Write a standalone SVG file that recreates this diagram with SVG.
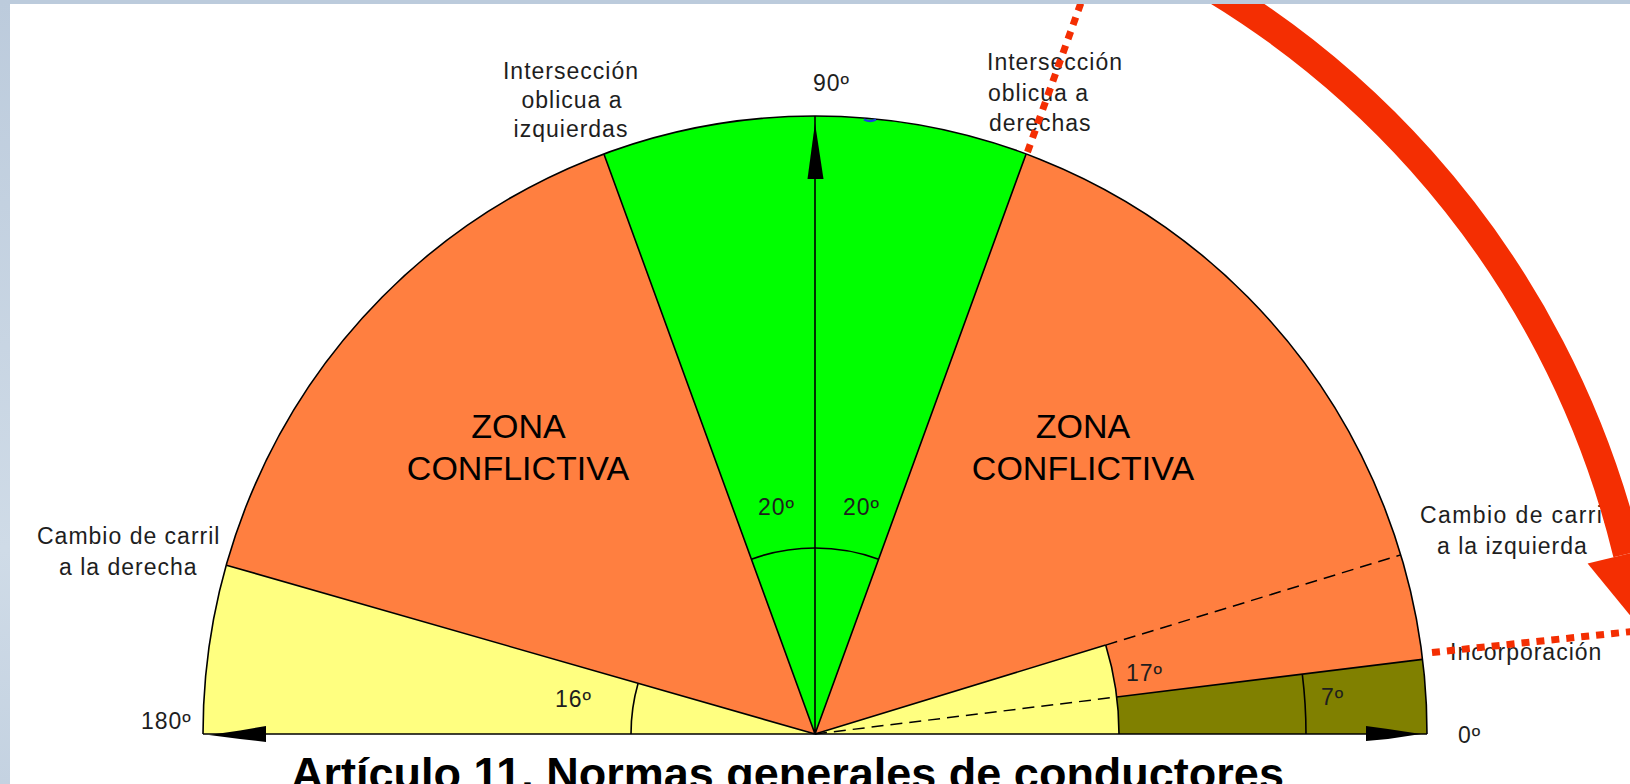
<svg xmlns="http://www.w3.org/2000/svg" width="1630" height="784" viewBox="0 0 1630 784">
<defs>
<linearGradient id="sideGrad" x1="0" y1="0" x2="0" y2="1">
<stop offset="0" stop-color="#bccbdc"/>
<stop offset="0.7" stop-color="#cfdbe7"/>
<stop offset="1" stop-color="#c4d2e1"/>
</linearGradient>
<style>
.edge{fill:none;stroke:#000;stroke-width:1.6}
.dash{fill:none;stroke:#000;stroke-width:1.5;stroke-dasharray:12 7}
.lbl{font-family:"Liberation Sans",Arial,sans-serif;font-size:23px;letter-spacing:1px;fill:#1e1e1e}
.zone{font-family:"Liberation Sans",Arial,sans-serif;font-size:34px;fill:#000;text-anchor:middle}
.title{font-family:"Liberation Sans",Arial,sans-serif;font-size:45px;font-weight:bold;fill:#000;text-anchor:middle}
.dots{fill:none;stroke:#f42e02;stroke-width:7;stroke-dasharray:8 7}
.blk{fill:#000}
</style>
</defs>
<rect width="1630" height="784" fill="#fff"/>

<g id="sector-yellow-left"><path d="M815 734 L203 734 A612 618 0 0 1 226.4 565.2 Z" fill="#ffff80"/></g>
<g id="sector-orange-left"><path d="M815 734 L226.4 565.2 A612 618 0 0 1 603.9 153.9 Z" fill="#ff7f40"/></g>
<g id="sector-green"><path d="M815 734 L603.9 153.9 A612 618 0 0 1 1026.1 153.9 Z" fill="#00ff00"/></g>
<g id="sector-orange-right"><path d="M815 734 L1026.1 153.9 A612 618 0 0 1 1422.4 659.4 L1116.7 697 A304 304 0 0 0 1105.7 645.1 Z" fill="#ff7f40"/></g>
<g id="sector-yellow-right"><path d="M815 734 L1105.7 645.1 A304 304 0 0 1 1119 734 Z" fill="#ffff80"/></g>
<g id="sector-olive"><path d="M1116.7 697 L1422.4 659.4 A612 618 0 0 1 1427 734 L1119 734 A304 304 0 0 0 1116.7 697 Z" fill="#808000"/></g>

<g id="edges">
<path class="edge" d="M203 734 A612 618 0 0 1 815 116 A612 618 0 0 1 1427 734"/>
<path class="edge" d="M203 734 H1427"/>
<path class="edge" d="M815 734 L226.4 565.2 M815 734 L603.9 153.9 M815 734 V116 M815 734 L1026.1 153.9 M815 734 L1105.7 645.1 M1116.7 697 L1422.4 659.4"/>
<path class="edge" d="M638.1 683.3 A184 184 0 0 0 631 734 M751.4 559.2 A186 186 0 0 1 878.6 559.2 M1105.7 645.1 A304 304 0 0 1 1119 734 M1302.3 674.2 A491 491 0 0 1 1306 734"/>
<path class="dash" d="M815 734 L1116.7 697 M1105.7 645.1 L1400.7 554.9"/>
<path d="M864 119.5 Q870 122.5 876 119.5" fill="none" stroke="#1a3fe0" stroke-width="2.5"/>
</g>

<g id="axis-arrows">
<polygon class="blk" points="815,123 823.5,179 807.5,179"/>
<polygon class="blk" points="209,735 240,730.5 266,726 266,742 240,739"/>
<polygon class="blk" points="1421,734 1388,729 1366,726 1366,741 1388,739"/>
</g>

<g id="labels">
<text class="lbl" text-anchor="middle" x="571" y="79">Intersección</text>
<text class="lbl" text-anchor="middle" x="572" y="108">oblicua a</text>
<text class="lbl" text-anchor="middle" x="571" y="137">izquierdas</text>
<text class="lbl" x="987" y="70">Intersección</text>
<text class="lbl" x="988" y="101">oblicua a</text>
<text class="lbl" x="989" y="131">derechas</text>
<text class="lbl" x="813" y="91">90º</text>
<text class="lbl" x="37" y="544">Cambio de carril</text>
<text class="lbl" x="59" y="575">a la derecha</text>
<text class="lbl" x="1420" y="523" style="letter-spacing:1.4px">Cambio de carril</text>
<text class="lbl" x="1437" y="554">a la izquierda</text>
<text class="lbl" x="1450" y="660">Incorporación</text>
<text class="lbl" x="141" y="729">180º</text>
<text class="lbl" x="1458" y="743">0º</text>
<text class="lbl" x="555" y="707">16º</text>
<text class="lbl" x="1126" y="681">17º</text>
<text class="lbl" x="1321" y="705">7º</text>
<text class="lbl" x="758" y="515">20º</text>
<text class="lbl" x="843" y="515">20º</text>
<text class="zone" x="518.5" y="438">ZONA</text>
<text class="zone" x="518" y="480">CONFLICTIVA</text>
<text class="zone" x="1083" y="438">ZONA</text>
<text class="zone" x="1083" y="480">CONFLICTIVA</text>
</g>

<g id="connectors">
<path class="dots" d="M1027.5 152 L1082 0"/>
<path class="dots" d="M1432 652.5 L1632 631.5"/>
<path d="M1053.6 -88.1 A911 911 0 0 1 1627.5 553.8" fill="none" stroke="#f42e02" stroke-width="29"/>
<polygon points="1587.6,563.4 1647.5,636.5 1667.3,544.1" fill="#f42e02"/>
</g>

<g id="title">
<text class="title" x="787.5" y="789">Artículo 11. Normas generales de conductores</text>
</g>

<g id="frame">
<rect x="0" y="0" width="1630" height="4" fill="#bccbdc"/>
<rect x="0" y="0" width="10" height="784" fill="url(#sideGrad)"/>
</g>
</svg>
